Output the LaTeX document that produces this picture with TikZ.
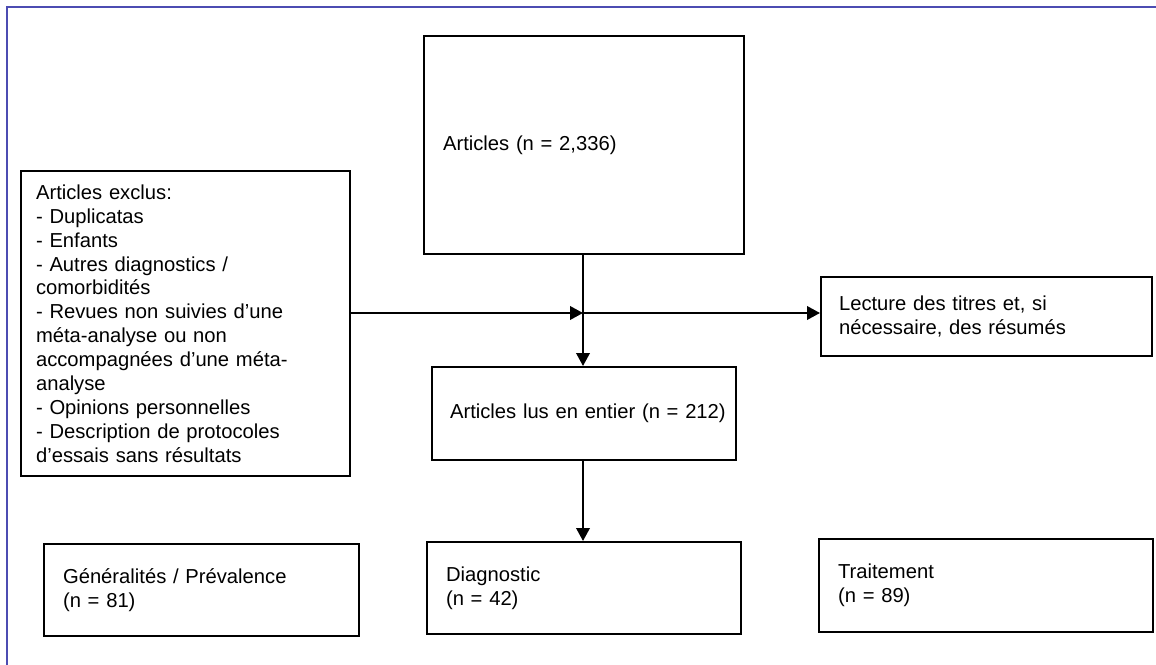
\documentclass[tikz,border=0pt]{standalone}
\usepackage{fontspec}
\setmainfont{Liberation Sans}
\usetikzlibrary{arrows.meta,positioning}

\begin{document}
\begin{tikzpicture}[
    x=0.02cm, y=-0.02cm,
    box/.style={draw, line width=1.2pt, align=left, anchor=north west,
        inner ysep=0pt, font=\fontsize{11.5}{13.6}\selectfont},
    arr/.style={-{Triangle[length=0.26cm, width=0.27cm]}, line width=1.2pt},
    frame/.style={draw=blue!40!gray, line width=1.2pt}
]
\useasboundingbox (0,0) rectangle (1156,665);
% outer frame (cut at right and bottom)
\draw[frame] (7,665) |- (1156,7);
% top row
\node[box, text width=5.64cm, inner xsep=0.38cm, minimum height=4.36cm] (art) at (423,35)
    {Articles (n = 2,336)};
\node[box, text width=5.98cm, inner xsep=0.30cm, minimum height=6.10cm] (excl) at (20,170)
    {Articles exclus:\\
     - Duplicatas\\
     - Enfants\\
     - Autres diagnostics /\\
     comorbidités\\
     - Revues non suivies d’une\\
     méta-analyse ou non\\
     accompagnées d’une méta-\\
     analyse\\
     - Opinions personnelles\\
     - Description de protocoles\\
     d{\char"0027}essais sans résultats};
\node[box, text width=5.90cm, inner xsep=0.36cm, minimum height=1.58cm] (lect) at (820,276)
    {Lecture des titres et, si\\ nécessaire, des résumés};
\node[box, text width=5.36cm, inner xsep=0.36cm, minimum height=1.86cm] (lus) at (431,366)
    {\mbox{Articles lus en entier (n = 212)}};
% bottom row
\node[box, text width=5.54cm, inner xsep=0.38cm, minimum height=1.84cm] (gen) at (43,543)
    {Généralités / Prévalence\\ (n = 81)};
\node[box, text width=5.52cm, inner xsep=0.38cm, minimum height=1.84cm] (diag) at (426,541)
    {Diagnostic\\ (n = 42)};
\node[box, text width=5.92cm, inner xsep=0.38cm, minimum height=1.86cm] (trait) at (818,538)
    {Traitement\\ (n = 89)};
% connectors
\coordinate (jn) at (583,313);
\draw[arr] (art.south -| jn) -- (lus.north -| jn);
\draw[arr] (excl.east |- jn) -- (jn);
\draw[arr] (jn) -- (lect.west |- jn);
\draw[arr] (lus.south -| jn) -- (diag.north -| jn);
\end{tikzpicture}
\end{document}
